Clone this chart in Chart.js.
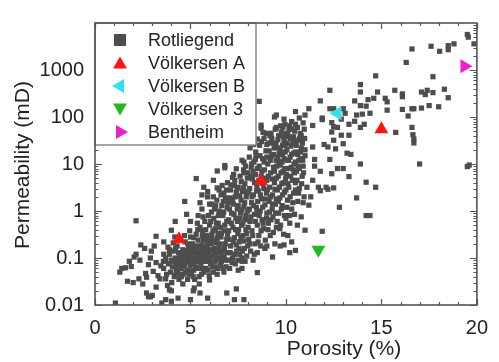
<!DOCTYPE html>
<html>
<head>
<meta charset="utf-8">
<script src="https://cdn.jsdelivr.net/npm/chart.js@4.4.1/dist/chart.umd.min.js"></script>
<style>
  html, body { margin: 0; padding: 0; background: #fff; }
  canvas { display: block; }
</style>
</head>
<body>
<canvas id="chart" width="499" height="362"></canvas>
<script>
// axis ticks
const xTicks = [0, 5, 10, 15, 20];
const yTicks = [0.01, 0.1, 1, 10, 100, 1000, 10000];

// series: [porosity %, permeability mD]
const rotliegend = [
  // low porosity tail
  [1.07,0.011],[1.3,0.05],[1.4,0.06],[1.6,0.062],[1.8,0.085],[1.9,0.066],[1.7,0.032],[2.15,0.62],
  [2.05,0.105],[2.15,0.12],[2.35,0.09],[2.4,0.19],[2.0,0.03],[2.3,0.036],[2.65,0.047],[2.5,0.028],
  [2.7,0.018],[2.9,0.015],[2.95,0.14],[2.8,0.072],[2.9,0.1],[2.6,0.16],[3.05,0.052],[3.1,0.18],
  [3.2,0.08],[3.3,0.042],[3.5,0.011],[3.2,0.29],[3.6,0.12],[3.45,0.068],[3.7,0.09],[3.8,0.026],
  [3.9,0.021],[3.7,0.036],[3.9,0.15],[3.6,0.22],[3.2,0.024],[3.4,0.036],[3.7,0.013],[4.0,0.012],
  [2.7,0.039],[3.0,0.016],[4.2,0.043],[4.35,0.014],[5.0,0.013],[5.15,0.02],[4.1,0.21],[4.0,0.39],
  [4.2,0.6],[2.8,0.015],[4.0,0.02],[4.6,0.028],[5.2,0.023],[5.5,0.018],[7.4,0.022],[7.8,0.013],
  [5.9,0.014],[7.3,0.013],[6.9,0.018],
  // upper-left edge of the cloud
  [4.7,1.6],[4.8,0.85],[5.4,0.8],[5.9,2.0],[6.4,3.1],[5.3,4.9],[6.2,4.5],[5.9,2.6],[5.6,2.2],
  [6.75,2.4],[7.3,3.5],[6.4,7.1],[6.8,8.3],[7.4,7.9],[7.8,6.5],[7.2,5.2],[7.7,12],[8.3,26],
  [8.5,34],[8.8,47],[8.7,58],[9.4,100],[8.6,215],[9.5,110],[5.0,0.6],[5.6,1.1],[6.0,1.4],
  [5.7,3.2],[6.5,2.8],[5.5,1.5],[6.1,1.4],[8.4,12.6],[7.8,11],[6.8,9.3],[8.7,67],
  // dense core, first pass
  [3.6,0.06],[3.7,0.1],[3.75,0.045],[3.85,0.075],[3.9,0.12],[3.95,0.05],[4.0,0.09],
  [4.05,0.065],[4.1,0.14],[4.15,0.04],[4.2,0.1],[4.25,0.055],[4.3,0.18],[4.35,0.08],[4.4,0.035],
  [4.45,0.12],[4.5,0.06],
  [4.55,0.095],[4.6,0.15],[4.62,0.045],[4.7,0.075],[4.72,0.22],[4.8,0.11],[4.85,0.035],[4.88,0.055],
  [4.9,0.17],[4.95,0.085],[5.0,0.28],[5.0,0.13],
  [5.05,0.05],[5.1,0.2],[5.12,0.075],[5.2,0.1],[5.22,0.035],[5.3,0.32],[5.3,0.15],[5.35,0.06],
  [5.4,0.24],[5.42,0.09],[5.5,0.45],[5.48,0.125],[5.45,0.04],
  [5.55,0.07],[5.6,0.19],[5.62,0.3],[5.65,0.105],[5.7,0.05],[5.75,0.6],[5.78,0.15],[5.8,0.4],
  [5.85,0.085],[5.9,0.24],[5.92,0.055],[5.95,0.13],[6.0,0.5],[6.0,0.034],
  [6.05,0.075],[6.08,0.2],[6.1,0.95],[6.12,0.32],[6.15,0.11],[6.2,0.05],[6.22,0.7],[6.25,0.16],
  [6.3,0.42],[6.32,1.3],[6.35,0.09],[6.4,0.26],[6.42,0.06],[6.45,0.55],[6.48,0.13],[6.5,1.0],
  [6.55,0.2],[6.58,0.07],[6.6,2.2],[6.62,0.34],[6.65,0.11],[6.7,0.8],[6.72,1.6],[6.75,0.05],
  [6.78,0.16],[6.8,0.5],[6.85,0.09],[6.88,2.8],[6.9,0.25],[6.92,1.2],[6.95,0.13],[7.0,0.65],[7.0,0.38],
  [7.05,0.06],[7.08,1.9],[7.1,0.18],[7.12,3.6],[7.15,0.9],[7.2,0.1],[7.22,0.45],[7.25,1.4],
  [7.3,0.27],[7.32,4.5],[7.35,0.075],[7.38,0.7],[7.4,2.5],[7.42,0.14],[7.45,1.1],[7.48,0.33],
  [7.5,3.2],[7.5,0.055],
  [7.55,0.22],[7.58,0.12],[7.6,5.5],[7.62,0.9],[7.65,1.7],[7.68,0.5],[7.7,0.085],[7.72,2.6],
  [7.75,0.3],[7.78,7.5],[7.8,1.25],[7.82,0.16],[7.85,3.8],[7.88,0.65],[7.9,0.4],[7.92,2.0],
  [7.95,0.11],[7.98,5.0],[8.0,1.0],
  [8.05,0.25],[8.08,14],[8.1,3.0],[8.12,0.6],[8.15,0.14],[8.18,8.5],[8.2,1.5],[8.22,0.38],
  [8.25,4.8],[8.28,0.09],[8.3,2.2],[8.32,11],[8.35,0.85],[8.38,0.2],[8.4,6.0],[8.42,18],
  [8.45,1.2],[8.48,3.5],[8.5,0.5],[8.5,0.13],
  [8.55,2.7],[8.58,0.3],[8.6,9],[8.62,25],[8.65,1.0],[8.68,0.18],[8.7,5.5],[8.72,1.8],
  [8.75,0.65],[8.78,13],[8.8,3.8],[8.82,0.42],[8.85,35],[8.88,7.5],[8.9,1.35],[8.92,0.24],
  [8.95,19],[8.98,2.4],[9.0,4.5],[9.0,0.9],
  [9.05,10],[9.08,0.55],[9.1,28],[9.12,1.6],[9.15,3.2],[9.18,0.3],[9.2,6.5],[9.22,45],
  [9.25,15],[9.28,1.1],[9.3,2.2],[9.32,0.75],[9.35,8.5],[9.38,22],[9.4,4.0],[9.42,0.2],
  [9.45,1.4],[9.48,12],[9.5,0.45],[9.5,60],
  [9.55,2.8],[9.58,33],[9.6,5.5],[9.62,0.9],[9.65,17],[9.68,1.9],[9.7,9.5],[9.72,0.5],
  [9.75,48],[9.78,3.8],[9.8,1.3],[9.82,25],[9.85,7.0],[9.88,0.32],[9.9,13],[9.92,2.5],
  [9.95,70],[9.98,4.8],[10.0,0.7],
  [10.05,20],[10.08,1.7],[10.1,8],[10.12,38],[10.15,3.2],[10.2,0.55],[10.22,14],[10.25,5.5],
  [10.3,1.1],[10.32,55],[10.35,27],[10.4,2.4],[10.42,10],[10.45,0.85],[10.5,18],[10.5,4.0],
  [10.55,7],[10.6,32],[10.62,1.6],[10.68,12],[10.7,3.0],[10.75,45],[10.8,22],[10.85,5.5],
  [10.9,9],[10.95,2.0],[11.0,15],[10.1,45],[10.3,80],[10.6,60],[10.9,75],[10.4,38],[10.8,40],[9.9,90],
  // dense core, second pass
  [4.02,0.03],[4.12,0.085],[4.22,0.16],[4.32,0.05],[4.42,0.095],[4.48,0.25],[4.38,0.13],
  [4.52,0.04],[4.58,0.12],[4.66,0.065],[4.68,0.3],[4.76,0.14],[4.82,0.09],[4.86,0.2],[4.92,0.045],
  [4.98,0.07],[4.96,0.38],
  [5.02,0.11],[5.08,0.16],[5.14,0.04],[5.18,0.27],[5.24,0.13],[5.28,0.065],[5.32,0.085],[5.38,0.4],
  [5.44,0.18],[5.46,0.028],[5.52,0.11],[5.36,0.55],
  [5.56,0.16],[5.58,0.045],[5.64,0.38],[5.68,0.24],[5.72,0.085],[5.74,0.13],[5.82,0.06],[5.84,0.3],
  [5.88,0.19],[5.94,0.8],[5.96,0.1],[5.98,0.042],[5.66,0.75],
  [6.04,0.15],[6.06,0.6],[6.1,0.27],[6.14,0.065],[6.18,0.38],[6.24,0.13],[6.26,1.1],[6.28,0.085],
  [6.34,0.21],[6.36,0.55],[6.4,0.045],[6.44,0.33],[6.46,0.8],[6.5,0.17],[6.38,1.7],[6.2,2.0],
  [6.52,0.1],[6.56,0.45],[6.6,0.28],[6.64,1.3],[6.68,0.14],[6.7,0.06],[6.74,0.95],[6.78,0.38],
  [6.82,0.2],[6.84,1.9],[6.86,0.065],[6.9,0.6],[6.94,0.32],[6.98,1.5],[6.96,0.09],[6.66,3.5],[6.94,4.0],
  [7.02,0.25],[7.04,1.1],[7.08,0.13],[7.1,2.8],[7.14,0.55],[7.18,0.08],[7.2,1.7],[7.24,0.22],
  [7.28,0.85],[7.3,0.12],[7.34,2.0],[7.36,0.4],[7.4,0.19],[7.44,3.0],[7.46,0.6],[7.5,1.3],
  [7.48,0.09],[7.26,6.0],
  [7.52,0.4],[7.54,0.16],[7.58,2.1],[7.6,0.7],[7.64,0.27],[7.66,4.2],[7.7,1.05],[7.72,0.14],
  [7.74,0.55],[7.78,3.1],[7.8,0.23],[7.84,1.5],[7.86,0.085],[7.88,9],[7.9,0.8],[7.94,0.33],
  [7.96,2.4],[8.0,0.18],[8.0,6.5],
  [8.02,0.45],[8.04,2.6],[8.08,1.1],[8.1,0.2],[8.14,5.5],[8.16,0.75],[8.2,10],[8.22,2.0],
  [8.26,0.3],[8.28,7.0],[8.3,1.3],[8.34,0.12],[8.36,4.0],[8.4,0.6],[8.44,15],[8.46,2.7],
  [8.48,0.95],[8.5,8],[8.12,22],[8.36,28],
  [8.52,1.6],[8.54,0.22],[8.58,4.5],[8.6,0.8],[8.64,15],[8.66,2.2],[8.7,0.38],[8.72,30],
  [8.74,7],[8.78,1.2],[8.8,0.55],[8.84,3.0],[8.86,11],[8.9,0.16],[8.92,5.0],[8.94,1.8],
  [8.96,45],[8.98,0.7],[9.0,26],[9.0,14],
  [9.02,2.8],[9.06,0.4],[9.08,5.5],[9.12,19],[9.14,0.95],[9.18,12],[9.2,2.0],[9.22,0.65],
  [9.26,35],[9.28,4.8],[9.3,1.4],[9.34,0.35],[9.36,16],[9.4,7],[9.42,2.9],[9.44,55],
  [9.46,0.9],[9.48,26],[9.5,5.0],[9.5,1.8],
  [9.52,9],[9.54,0.6],[9.58,14],[9.6,1.6],[9.62,40],[9.66,3.2],[9.68,0.42],[9.7,20],
  [9.74,6.5],[9.76,1.1],[9.8,11],[9.82,2.2],[9.84,60],[9.86,4.0],[9.9,30],[9.92,0.8],
  [9.94,8],[9.96,18],[10.0,2.8],[10.0,45],
  [10.02,6],[10.04,1.2],[10.06,28],[10.1,3.8],[10.14,12],[10.18,0.8],[10.2,65],[10.22,2.0],
  [10.26,24],[10.28,8.5],[10.34,4.5],[10.36,1.5],[10.4,17],[10.44,6.5],[10.46,50],[10.5,2.8],[10.5,11],
  [10.54,25],[10.58,4.5],[10.62,16],[10.66,2.4],[10.7,8],[10.72,35],[10.78,13],[10.82,3.8],
  [10.86,28],[10.92,6.5],[10.96,55],[11.0,20],
  // dense core, third pass
  [4.28,0.07],[4.46,0.045],[4.54,0.075],[4.64,0.1],[4.74,0.05],[4.84,0.14],[4.94,0.11],[5.06,0.085],
  [5.16,0.055],[5.26,0.18],[5.34,0.11],[5.54,0.085],[5.6,0.06],[5.7,0.17],[5.86,0.11],[6.02,0.09],
  [6.16,0.24],[6.3,0.065],[6.32,0.11],[6.54,0.14],[6.62,0.085],[6.76,0.11],[3.82,0.17],[3.58,0.085],
  [4.18,0.28],[9.16,40],[9.34,28],[9.56,22],[9.72,65],[9.88,38],[10.08,12],[10.16,55],[10.24,35],
  [10.38,7.5],[10.48,30],[10.64,9],[10.76,18],[10.88,12],[10.98,35],[9.64,11],[9.82,16],[10.3,16],[9.96,25],
  // right of the cloud
  [9.3,0.105],[9.7,0.18],[10.2,0.13],[10.1,0.3],[10.3,0.22],[9.0,0.18],[7.7,0.06],[7.7,0.1],
  [8.5,0.049],[9.9,0.19],[10.5,0.145],[10.6,0.5],[10.8,0.75],[11.0,0.39],[10.9,1.5],[11.9,0.37],
  [11.2,1.33],[11.3,2.0],[11.7,3.2],[11.1,3.2],[11.8,2.7],[12.2,2.9],[12.5,3.1],[12.1,3.2],
  [12.8,1.2],[13.7,1.9],[14.2,0.8],[14.4,0.8],[14.7,3.2],[14.2,4.1],[13.3,5.4],[12.4,6.2],
  [12.7,8],[13.0,8],[11.5,9],[11.8,7],[11.4,4.5],[13.9,10],[12.3,12.5],[11.5,12.5],[13.4,16],
  [13.2,17],[12.6,21],[12.2,23],[11.4,23],[12.0,26],[12.5,32],[13.0,27],[17.0,10],[19.5,8.8],[19.6,9.5],
  // high permeability group
  [10.5,130],[11.0,110],[11.9,95],[12.3,370],[11.8,220],[12.4,76],[12.4,48],[13.0,150],
  [12.9,41],[13.3,41],[13.6,81],[11.9,88],[11.4,66],[10.5,70],[10.7,95],[11.2,150],
  [12.3,150],[12.7,60],[12.5,150],[13.1,120],[13.7,110],[14.0,115],[12.9,90],[13.3,70],
  [14.1,70],[12.5,62],[13.9,60],[13.6,220],[13.9,175],[14.2,170],[14.4,120],[14.3,234],
  [14.6,250],[15.2,250],[15.3,210],[15.3,140],[16.1,145],[16.7,150],[17.1,155],[17.5,175],
  [18.0,165],[16.4,105],[16.6,150],[13.9,490],[13.9,340],[14.8,340],[15.7,370],[16.1,310],
  [16.1,270],[17.1,340],[17.4,370],[17.7,330],[17.3,300],[18.3,390],[18.5,257],[14.7,750],
  [17.7,720],[16.3,1450],[16.6,2800],[17.6,3200],[18.05,2500],[18.5,3300],[18.5,2700],
  [18.8,3600],[19.5,5700],[19.55,5000],[19.85,3600],[15.75,47],[16.6,60],[16.7,34],[16.65,42],
  [16.7,28]
];
const volkersenA = [[4.4, 0.25], [8.7, 4.3], [15.0, 55]];
const volkersenB = [[12.7, 120]];
const volkersen3 = [[11.7, 0.15]];
const bentheim = [[19.35, 1200]];

const seriesNames = ['Rotliegend', 'Völkersen A', 'Völkersen B', 'Völkersen 3', 'Bentheim'];
const seriesColors = ['#4d4d4d', '#ff1414', '#33e0ee', '#1fbb1f', '#f01fcc'];

const FONT = "'Liberation Sans', Arial, Helvetica, sans-serif";
const toXY = arr => arr.map(([x, y]) => ({ x, y }));

// inward tick marks on all four sides + frame
const frameTicks = {
  id: 'frameTicks',
  afterDraw(chart) {
    const { ctx, chartArea: a, scales } = chart;
    ctx.save();
    ctx.strokeStyle = '#555';
    ctx.lineWidth = 1.2;
    ctx.beginPath();
    for (let v = 0; v <= 20; v++) {
      const px = Math.round(scales.x.getPixelForValue(v)) + 0.5;
      const len = v % 5 === 0 ? 6 : 3;
      ctx.moveTo(px, a.bottom); ctx.lineTo(px, a.bottom - len);
      ctx.moveTo(px, a.top); ctx.lineTo(px, a.top + len);
    }
    for (let e = -2; e < 4; e++) {
      for (let m = 1; m <= 9; m++) {
        const py = Math.round(scales.y.getPixelForValue(m * Math.pow(10, e))) + 0.5;
        const len = m === 1 ? 7 : 3.5;
        ctx.moveTo(a.right, py); ctx.lineTo(a.right - len, py);
        if (py > a.top + 123) { ctx.moveTo(a.left, py); ctx.lineTo(a.left + len, py); }
      }
    }
    ctx.stroke();
    ctx.lineWidth = 1.6;
    ctx.strokeRect(a.left, a.top, a.right - a.left, a.bottom - a.top);

    // axis titles
    ctx.fillStyle = '#222';
    ctx.font = '21px ' + FONT;
    ctx.textAlign = 'center';
    ctx.textBaseline = 'middle';
    ctx.fillText('Porosity (%)', 344, 349);
    ctx.translate(23, 165);
    ctx.rotate(-Math.PI / 2);
    ctx.fillText('Permeability (mD)', 0, 0);
    ctx.restore();
  }
};

function marker(ctx, style, rot, x, y, r) {
  ctx.beginPath();
  if (style === 'rect') {
    ctx.rect(x - r, y - r, 2 * r, 2 * r);
  } else {
    let ang = rot * Math.PI / 180;
    for (let i = 0; i < 3; i++) {
      const px = x + Math.sin(ang) * r, py = y - Math.cos(ang) * r;
      i ? ctx.lineTo(px, py) : ctx.moveTo(px, py);
      ang += 2 * Math.PI / 3;
    }
    ctx.closePath();
  }
  ctx.fill();
}

// legend box inside the plot, top-left
const legendBox = {
  id: 'legendBox',
  afterDatasetsDraw(chart) {
    const { ctx, chartArea: a } = chart;
    ctx.save();
    ctx.fillStyle = '#fff';
    ctx.fillRect(a.left, a.top, 161, 122);
    ctx.strokeStyle = '#888';
    ctx.lineWidth = 1.5;
    ctx.strokeRect(a.left, a.top, 161, 122);
    ctx.font = '18px ' + FONT;
    ctx.textBaseline = 'middle';
    chart.data.datasets.forEach((ds, i) => {
      const y = a.top + 17 + i * 23;
      ctx.fillStyle = ds.backgroundColor;
      if (ds.pointStyle === 'rect') marker(ctx, 'rect', 0, a.left + 25, y, 6);
      else marker(ctx, 'tri', ds.pointRotation, a.left + 25, y + (ds.pointRotation === 0 ? 1.5 : ds.pointRotation === 180 ? -1.5 : 0), 8);
      ctx.fillStyle = '#222';
      ctx.fillText(ds.label, a.left + 53, y + 1);
    });
    ctx.restore();
  }
};

// triangles go on top of the grey cloud (lower order = drawn later)
const triangle = (label, data, color, rotation) => ({
  label, data: toXY(data), pointStyle: 'triangle', pointRotation: rotation, order: 0,
  pointRadius: 8, backgroundColor: color, borderWidth: 0
});

new Chart(document.getElementById('chart'), {
  type: 'scatter',
  data: {
    datasets: [
      { label: seriesNames[0], data: toXY(rotliegend), pointStyle: 'rect', pointRotation: 0, order: 1,
        pointRadius: 3.7, backgroundColor: seriesColors[0], borderWidth: 0 },
      triangle(seriesNames[1], volkersenA, seriesColors[1], 0),
      triangle(seriesNames[2], volkersenB, seriesColors[2], 270),
      triangle(seriesNames[3], volkersen3, seriesColors[3], 180),
      triangle(seriesNames[4], bentheim, seriesColors[4], 90)
    ]
  },
  options: {
    responsive: false,
    animation: false,
    devicePixelRatio: 1,
    layout: { padding: { top: 13, right: 13, left: 0, bottom: 0 } },
    plugins: { legend: { display: false }, tooltip: { enabled: false } },
    scales: {
      x: {
        type: 'linear', min: 0, max: 20,
        afterBuildTicks: s => { s.ticks = xTicks.map(v => ({ value: v })); },
        afterFit: s => { s.height = 57; },
        grid: { display: false, drawTicks: false },
        border: { display: false },
        ticks: { padding: 11, color: '#222', font: { family: FONT, size: 20 }, maxRotation: 0, autoSkip: false }
      },
      y: {
        type: 'logarithmic', min: 0.01, max: 10000,
        afterBuildTicks: s => { s.ticks = yTicks.map(v => ({ value: v })); },
        afterFit: s => { s.width = 95; },
        grid: { display: false, drawTicks: false },
        border: { display: false },
        ticks: {
          padding: 11, color: '#222', font: { family: FONT, size: 20 }, autoSkip: false,
          callback: v => (v >= 10000 ? '' : String(v))
        }
      }
    }
  },
  plugins: [legendBox, frameTicks]
});
</script>
</body>
</html>
